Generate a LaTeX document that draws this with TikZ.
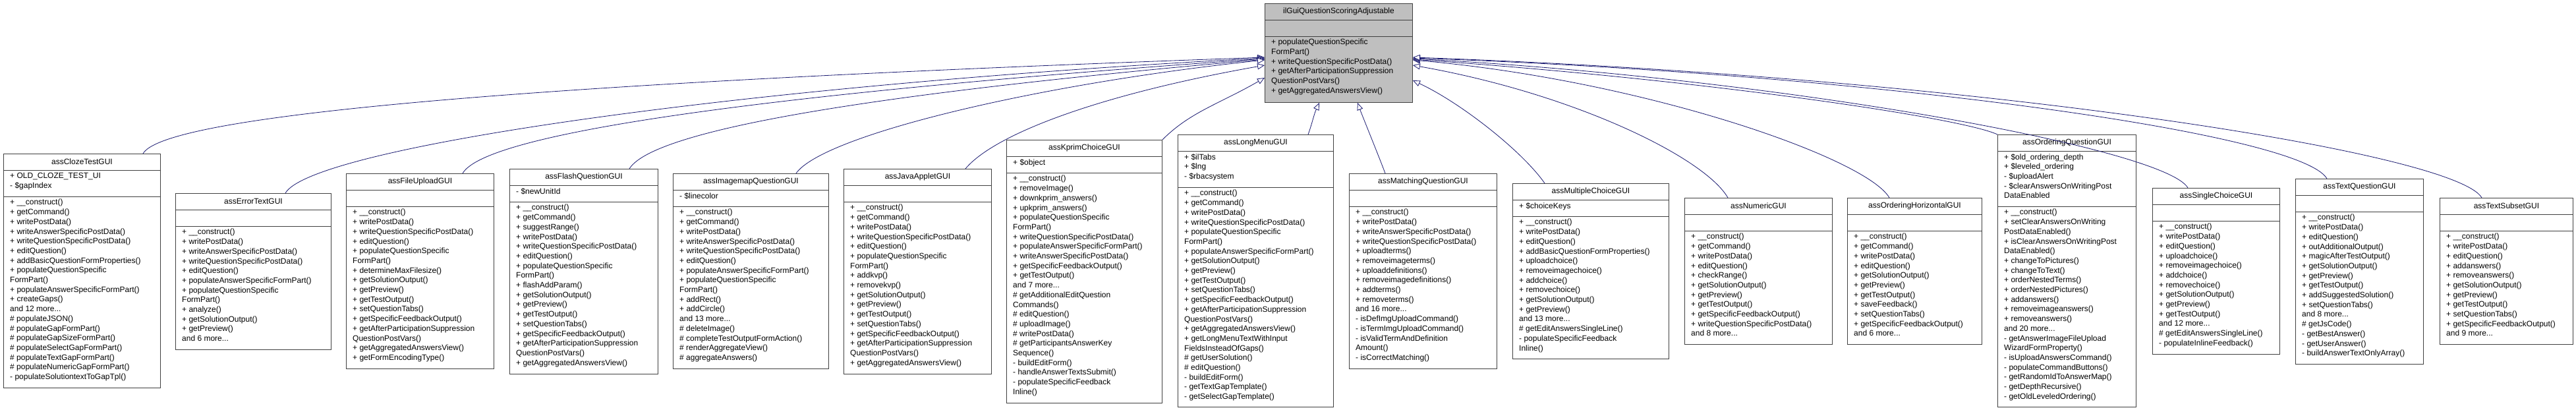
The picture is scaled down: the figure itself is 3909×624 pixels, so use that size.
\documentclass[tikz,border=0pt]{standalone}
\usepackage{fontspec}
\setmainfont{Liberation Sans}
\usetikzlibrary{calc,arrows.meta}
\definecolor{edgeblue}{RGB}{25,25,112}
\definecolor{frame}{RGB}{64,64,64}
\tikzset{
  box/.style={draw=frame, line width=0.9pt, fill=white, inner sep=0pt},
  topbox/.style={box, fill=black!25},
  sep/.style={draw=frame, line width=0.9pt},
  ttl/.style={font=\fontsize{12}{14.7}\selectfont, inner sep=0pt},
  mem/.style={font=\fontsize{12}{14.7}\selectfont, align=left, inner sep=0pt},
  inh/.style={draw=edgeblue, line width=0.8pt, -{Triangle[open, length=11pt, width=9pt, fill=white]}},
}
\newcommand\cls[9]{%
  \node[#1box, minimum width=#4pt, minimum height=#5pt, anchor=north west] (#2) at (#3pt,0) {};
  \node[ttl] at ($(#2.north)+(0,-12.5pt)$) {#6};
  \draw[sep] ($(#2.north west)+(0,-25pt)$) -- ($(#2.north east)+(0,-25pt)$);
  \draw[sep] ($(#2.north west)+(0,-25pt-#7pt)$) -- ($(#2.north east)+(0,-25pt-#7pt)$);
  \node[mem, anchor=north west] at ($(#2.north west)+(10pt,-29pt)$) {#8};
  \node[mem, anchor=north west] at ($(#2.north west)+(10pt,-29pt-#7pt)$) {#9};
}
% \conn{start}{out angle}{len}{end}{in angle}{len}
\newcommand\conn[6]{%
  \draw[inh] (#1) .. controls ($(#1)+(#2:#3)$) and ($(#4)+(#5:#6)$) .. (#4);
}
\begin{document}
\begin{tikzpicture}[x=1pt,y=1pt]
\useasboundingbox (0,0) rectangle (3909,-624);
% top node
\begin{scope}[yshift=-5pt]
\cls{top}{top}{1919}{224}{150}{ilGuiQuestionScoringAdjustable}{25}{}{+ populateQuestionSpecific\\FormPart()\\+ writeQuestionSpecificPostData()\\+ getAfterParticipationSuppression\\QuestionPostVars()\\+ getAggregatedAnswersView()}
\end{scope}
\begin{scope}[yshift=-233pt]
\cls{}{c1}{5}{238}{355}{assClozeTestGUI}{40}{+ OLD\_CLOZE\_TEST\_UI\\- \$gapIndex}{+ \_\_construct()\\+ getCommand()\\+ writePostData()\\+ writeAnswerSpecificPostData()\\+ writeQuestionSpecificPostData()\\+ editQuestion()\\+ addBasicQuestionFormProperties()\\+ populateQuestionSpecific\\FormPart()\\+ populateAnswerSpecificFormPart()\\+ createGaps()\\and 12 more...\\\# populateJSON()\\\# populateGapFormPart()\\\# populateGapSizeFormPart()\\\# populateSelectGapFormPart()\\\# populateTextGapFormPart()\\\# populateNumericGapFormPart()\\- populateSolutiontextToGapTpl()}
\end{scope}
\begin{scope}[yshift=-293pt]
\cls{}{c2}{266}{236}{237}{assErrorTextGUI}{25}{}{+ \_\_construct()\\+ writePostData()\\+ writeAnswerSpecificPostData()\\+ writeQuestionSpecificPostData()\\+ editQuestion()\\+ populateAnswerSpecificFormPart()\\+ populateQuestionSpecific\\FormPart()\\+ analyze()\\+ getSolutionOutput()\\+ getPreview()\\and 6 more...}
\end{scope}
\begin{scope}[yshift=-263pt]
\cls{}{c3}{525}{224}{296}{assFileUploadGUI}{25}{}{+ \_\_construct()\\+ writePostData()\\+ writeQuestionSpecificPostData()\\+ editQuestion()\\+ populateQuestionSpecific\\FormPart()\\+ determineMaxFilesize()\\+ getSolutionOutput()\\+ getPreview()\\+ getTestOutput()\\+ setQuestionTabs()\\+ getSpecificFeedbackOutput()\\+ getAfterParticipationSuppression\\QuestionPostVars()\\+ getAggregatedAnswersView()\\+ getFormEncodingType()}
\end{scope}
\begin{scope}[yshift=-256pt]
\cls{}{c4}{773}{225}{311}{assFlashQuestionGUI}{25}{- \$newUnitId}{+ \_\_construct()\\+ getCommand()\\+ suggestRange()\\+ writePostData()\\+ writeQuestionSpecificPostData()\\+ editQuestion()\\+ populateQuestionSpecific\\FormPart()\\+ flashAddParam()\\+ getSolutionOutput()\\+ getPreview()\\+ getTestOutput()\\+ setQuestionTabs()\\+ getSpecificFeedbackOutput()\\+ getAfterParticipationSuppression\\QuestionPostVars()\\+ getAggregatedAnswersView()}
\end{scope}
\begin{scope}[yshift=-263pt]
\cls{}{c5}{1021}{236}{296}{assImagemapQuestionGUI}{25}{- \$linecolor}{+ \_\_construct()\\+ getCommand()\\+ writePostData()\\+ writeAnswerSpecificPostData()\\+ writeQuestionSpecificPostData()\\+ editQuestion()\\+ populateAnswerSpecificFormPart()\\+ populateQuestionSpecific\\FormPart()\\+ addRect()\\+ addCircle()\\and 13 more...\\\# deleteImage()\\\# completeTestOutputFormAction()\\\# renderAggregateView()\\\# aggregateAnswers()}
\end{scope}
\begin{scope}[yshift=-256pt]
\cls{}{c6}{1280}{224}{311}{assJavaAppletGUI}{25}{}{+ \_\_construct()\\+ getCommand()\\+ writePostData()\\+ writeQuestionSpecificPostData()\\+ editQuestion()\\+ populateQuestionSpecific\\FormPart()\\+ addkvp()\\+ removekvp()\\+ getSolutionOutput()\\+ getPreview()\\+ getTestOutput()\\+ setQuestionTabs()\\+ getSpecificFeedbackOutput()\\+ getAfterParticipationSuppression\\QuestionPostVars()\\+ getAggregatedAnswersView()}
\end{scope}
\begin{scope}[yshift=-212pt]
\cls{}{c7}{1527}{236}{399}{assKprimChoiceGUI}{25}{+ \$object}{+ \_\_construct()\\+ removeImage()\\+ downkprim\_answers()\\+ upkprim\_answers()\\+ populateQuestionSpecific\\FormPart()\\+ writeQuestionSpecificPostData()\\+ populateAnswerSpecificFormPart()\\+ writeAnswerSpecificPostData()\\+ getSpecificFeedbackOutput()\\+ getTestOutput()\\and 7 more...\\\# getAdditionalEditQuestion\\Commands()\\\# editQuestion()\\\# uploadImage()\\\# writePostData()\\\# getParticipantsAnswerKey\\Sequence()\\- buildEditForm()\\- handleAnswerTextsSubmit()\\- populateSpecificFeedback\\Inline()}
\end{scope}
\begin{scope}[yshift=-204pt]
\cls{}{c8}{1787}{236}{413}{assLongMenuGUI}{55}{+ \$ilTabs\\+ \$lng\\- \$rbacsystem}{+ \_\_construct()\\+ getCommand()\\+ writePostData()\\+ writeQuestionSpecificPostData()\\+ populateQuestionSpecific\\FormPart()\\+ populateAnswerSpecificFormPart()\\+ getSolutionOutput()\\+ getPreview()\\+ getTestOutput()\\+ setQuestionTabs()\\+ getSpecificFeedbackOutput()\\+ getAfterParticipationSuppression\\QuestionPostVars()\\+ getAggregatedAnswersView()\\+ getLongMenuTextWithInput\\FieldsInsteadOfGaps()\\\# getUserSolution()\\\# editQuestion()\\- buildEditForm()\\- getTextGapTemplate()\\- getSelectGapTemplate()}
\end{scope}
\begin{scope}[yshift=-263pt]
\cls{}{c9}{2047}{224}{296}{assMatchingQuestionGUI}{25}{}{+ \_\_construct()\\+ writePostData()\\+ writeAnswerSpecificPostData()\\+ writeQuestionSpecificPostData()\\+ uploadterms()\\+ removeimageterms()\\+ uploaddefinitions()\\+ removeimagedefinitions()\\+ addterms()\\+ removeterms()\\and 16 more...\\- isDefImgUploadCommand()\\- isTermImgUploadCommand()\\- isValidTermAndDefinition\\Amount()\\- isCorrectMatching()}
\end{scope}
\begin{scope}[yshift=-278pt]
\cls{}{c10}{2295}{237}{266}{assMultipleChoiceGUI}{25}{+ \$choiceKeys}{+ \_\_construct()\\+ writePostData()\\+ editQuestion()\\+ addBasicQuestionFormProperties()\\+ uploadchoice()\\+ removeimagechoice()\\+ addchoice()\\+ removechoice()\\+ getSolutionOutput()\\+ getPreview()\\and 13 more...\\\# getEditAnswersSingleLine()\\- populateSpecificFeedback\\Inline()}
\end{scope}
\begin{scope}[yshift=-300pt]
\cls{}{c11}{2556}{224}{222}{assNumericGUI}{25}{}{+ \_\_construct()\\+ getCommand()\\+ writePostData()\\+ editQuestion()\\+ checkRange()\\+ getSolutionOutput()\\+ getPreview()\\+ getTestOutput()\\+ getSpecificFeedbackOutput()\\+ writeQuestionSpecificPostData()\\and 8 more...}
\end{scope}
\begin{scope}[yshift=-300pt]
\cls{}{c12}{2803}{204}{222}{assOrderingHorizontalGUI}{25}{}{+ \_\_construct()\\+ getCommand()\\+ writePostData()\\+ editQuestion()\\+ getSolutionOutput()\\+ getPreview()\\+ getTestOutput()\\+ saveFeedback()\\+ setQuestionTabs()\\+ getSpecificFeedbackOutput()\\and 6 more...}
\end{scope}
\begin{scope}[yshift=-204pt]
\cls{}{c13}{3031}{210}{413}{assOrderingQuestionGUI}{84}{+ \$old\_ordering\_depth\\+ \$leveled\_ordering\\- \$uploadAlert\\- \$clearAnswersOnWritingPost\\DataEnabled}{+ \_\_construct()\\+ setClearAnswersOnWriting\\PostDataEnabled()\\+ isClearAnswersOnWritingPost\\DataEnabled()\\+ changeToPictures()\\+ changeToText()\\+ orderNestedTerms()\\+ orderNestedPictures()\\+ addanswers()\\+ removeimageanswers()\\+ removeanswers()\\and 20 more...\\- getAnswerImageFileUpload\\WizardFormProperty()\\- isUploadAnswersCommand()\\- populateCommandButtons()\\- getRandomIdToAnswerMap()\\- getDepthRecursive()\\- getOldLeveledOrdering()}
\end{scope}
\begin{scope}[yshift=-285pt]
\cls{}{c14}{3266}{193}{252}{assSingleChoiceGUI}{25}{}{+ \_\_construct()\\+ writePostData()\\+ editQuestion()\\+ uploadchoice()\\+ removeimagechoice()\\+ addchoice()\\+ removechoice()\\+ getSolutionOutput()\\+ getPreview()\\+ getTestOutput()\\and 12 more...\\\# getEditAnswersSingleLine()\\- populateInlineFeedback()}
\end{scope}
\begin{scope}[yshift=-271pt]
\cls{}{c15}{3483}{194}{281}{assTextQuestionGUI}{25}{}{+ \_\_construct()\\+ writePostData()\\+ editQuestion()\\+ outAdditionalOutput()\\+ magicAfterTestOutput()\\+ getSolutionOutput()\\+ getPreview()\\+ getTestOutput()\\+ addSuggestedSolution()\\+ setQuestionTabs()\\and 8 more...\\\# getJsCode()\\- getBestAnswer()\\- getUserAnswer()\\- buildAnswerTextOnlyArray()}
\end{scope}
\begin{scope}[yshift=-300pt]
\cls{}{c16}{3702}{202}{222}{assTextSubsetGUI}{25}{}{+ \_\_construct()\\+ writePostData()\\+ editQuestion()\\+ addanswers()\\+ removeanswers()\\+ getSolutionOutput()\\+ getPreview()\\+ getTestOutput()\\+ setQuestionTabs()\\+ getSpecificFeedbackOutput()\\and 9 more...}
\end{scope}
% connector end points
\coordinate (a1) at ($(c1.north west)+(212,0)$);
\coordinate (a2) at ($(c2.north west)+(167,0)$);
\coordinate (a3) at ($(c3.north west)+(177,0)$);
\coordinate (a4) at ($(c4.north west)+(182,0)$);
\coordinate (a5) at ($(c5.north west)+(187,0)$);
\coordinate (a6) at ($(c6.north west)+(185,0)$);
\coordinate (a7) at (c7.north east);
\coordinate (a8) at ($(c8.north west)+(198,0)$);
\coordinate (a9) at ($(c9.north west)+(55,0)$);
\coordinate (a10) at ($(c10.north west)+(49,0)$);
\coordinate (a11) at ($(c11.north west)+(66,0)$);
\coordinate (a12) at ($(c12.north west)+(64,0)$);
\coordinate (a13) at (c13.north west);
\coordinate (a14) at ($(c14.north west)+(54,0)$);
\coordinate (a15) at ($(c15.north west)+(48,0)$);
\coordinate (a16) at ($(c16.north west)+(64,0)$);
\coordinate (t1) at ($(top.north west)+(0,-82)$);
\coordinate (t2) at ($(top.north west)+(0,-83)$);
\coordinate (t3) at ($(top.north west)+(0,-84)$);
\coordinate (t4) at ($(top.north west)+(0,-85)$);
\coordinate (t5) at ($(top.north west)+(0,-86)$);
\coordinate (t6) at ($(top.north west)+(0,-94)$);
\coordinate (t7) at ($(top.north west)+(0,-113)$);
\coordinate (t8) at ($(top.south west)+(83,0)$);
\coordinate (t9) at ($(top.south west)+(141,0)$);
\coordinate (t10) at ($(top.north east)+(0,-117)$);
\coordinate (t11) at ($(top.north east)+(0,-94)$);
\coordinate (t12) at ($(top.north east)+(0,-86)$);
\coordinate (t13) at ($(top.north east)+(0,-85)$);
\coordinate (t14) at ($(top.north east)+(0,-84)$);
\coordinate (t15) at ($(top.north east)+(0,-83)$);
\coordinate (t16) at ($(top.north east)+(0,-82)$);
\conn{a1}{60}{80}{t1}{182}{900}
\conn{a2}{60}{80}{t2}{183}{800}
\conn{a3}{60}{80}{t3}{184}{650}
\conn{a4}{58}{80}{t4}{185}{500}
\conn{a5}{55}{70}{t5}{186}{350}
\conn{a6}{50}{70}{t6}{190}{250}
\conn{a7}{45}{60}{t7}{210}{80}
\conn{a8}{70}{20}{t8}{-115}{20}
\conn{a9}{110}{20}{t9}{-70}{20}
\conn{a10}{125}{60}{t10}{-25}{80}
\conn{a11}{120}{70}{t11}{-10}{250}
\conn{a12}{120}{70}{t12}{-5}{350}
\conn{a13}{155}{60}{t13}{-4}{450}
\conn{a14}{120}{70}{t14}{-3}{550}
\conn{a15}{120}{80}{t15}{-2}{700}
\conn{a16}{120}{80}{t16}{-2}{850}
\end{tikzpicture}
\end{document}
